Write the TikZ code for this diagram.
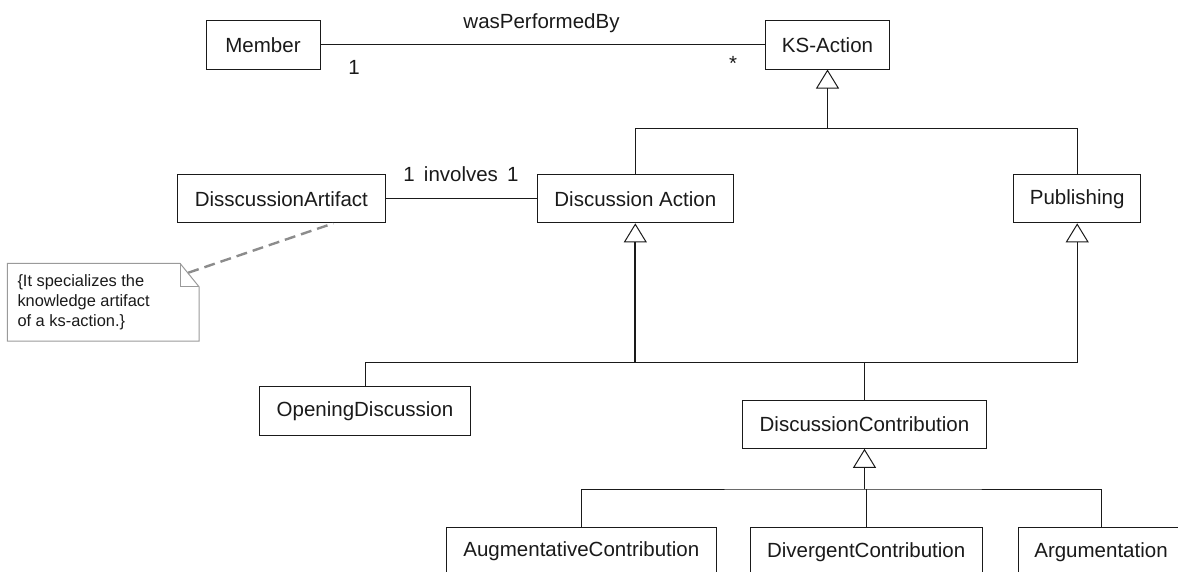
\documentclass[tikz,border=0pt]{standalone}
\usepackage{fontspec}
\setmainfont{Liberation Sans}
\usetikzlibrary{arrows.meta}
\definecolor{ink}{HTML}{1A1A1A}
\definecolor{notegray}{HTML}{9A9A9A}
\definecolor{dashgray}{HTML}{8C8C8C}
\begin{document}
\begin{tikzpicture}[x=1pt,y=-1pt,
  cls/.style={draw=ink, line width=1pt, fill=white, inner sep=0pt,
    minimum height=48.3pt, font=\fontsize{20.5}{24}\selectfont, text=ink},
  link/.style={draw=ink, line width=1pt},
  gen/.style={draw=ink, -{Triangle[open, length=19pt, width=23pt, line width=1pt]}},
  lbl/.style={font=\fontsize{20.5}{24}\selectfont, text=ink, inner sep=0pt, anchor=base},
]
\useasboundingbox (0,0) rectangle (1178,571);
\clip (0,0) rectangle (1178,571);

% classes
\node[cls, minimum width=114pt]   (member) at (263,44.85)   {Member};
\node[cls, minimum width=123.6pt] (ks)     at (827.5,44.85) {KS-Action};
\node[cls, minimum width=207.3pt] (art)    at (281.35,198.7) {DisscussionArtifact};
\node[cls, minimum width=196pt]   (da)     at (635.3,198.7) {Discussion Action};
\node[cls, minimum width=127pt]   (pub)    at (1077.2,198.7) {Publishing};
\node[cls, minimum width=211.4pt] (od)     at (365,410.85)  {OpeningDiscussion};
\node[cls, minimum width=244.4pt] (dc)     at (864.5,424.15) {DiscussionContribution};
\node[cls, minimum width=270.7pt] (aug)    at (581.35,551.5) {AugmentativeContribution};
\node[cls, minimum width=232.3pt] (div)    at (866.15,551.85) {DivergentContribution};
\node[cls, minimum width=165.4pt] (arg)    at (1101,551.85) {Argumentation};

% associations
\draw[link] (member.east) -- (ks.west);
\node[lbl] (wpb) at (541.5,28.3) {wasPerformedBy};
\node[lbl] (m1)  at (354,74) {1};
\node[lbl] (m2)  at (733,70) {*};
\draw[link] (art.east) -- (da.west);
\node[lbl] (inv) at (461,181.7) {1\hspace{0.45em}involves\hspace{0.45em}1};

% generalization: KS-Action
\coordinate (j1) at (ks.south |- 0,128.8);
\draw[link] (da.north) |- (j1) -| (pub.north);
\draw[gen, line width=1.8pt] (j1) -- (ks.south);

% generalization: Discussion Action / Publishing
\coordinate (j2) at (da.south |- 0,362.5);
\coordinate (j3) at (pub.south |- 0,362.5);
\draw[link] (od.north) |- (j3);
\draw[link] (dc.north) -- (dc.north |- j3);
\draw[gen, line width=1.8pt] (j2) -- (da.south);
\draw[gen, line width=1pt] (j3) -- (pub.south);

% generalization: DiscussionContribution
\coordinate (j4) at (dc.south |- 0,489);
\draw[link] (aug.north) |- (j4) -| (arg.north);
\draw[link] (div.north) -- (div.north |- j4);
\draw[gen, line width=1.4pt] (j4) -- (dc.south);

% note
\draw[notegray, line width=1pt, fill=white]
  (7.3,263.3) -- (180,263.3) -- (199,286.7) -- (199,341) -- (7.3,341) -- cycle;
\draw[notegray, line width=1pt] (180,263.3) -- (180,286.7) -- (199,286.7);
\node[anchor=north west, align=left, inner sep=0pt, text=ink,
  font=\fontsize{16.4}{20.3}\selectfont] (note) at (17.3,274)
  {\{It specializes the\\knowledge artifact\\of a ks-action.\}};
\coordinate (fold) at (188.3,272.7);
\draw[dashgray, line width=2.4pt, dash pattern=on 11pt off 6pt]
  (fold) -- (art.south -| 333.3,0);
\end{tikzpicture}
\end{document}
